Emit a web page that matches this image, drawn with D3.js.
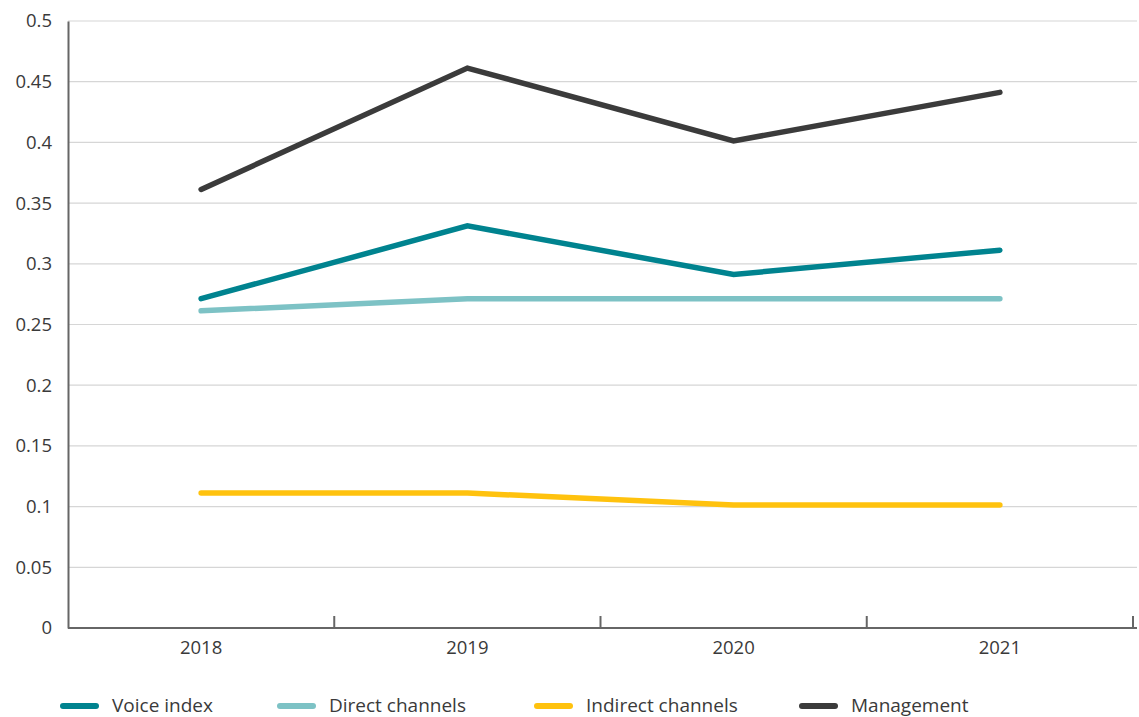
<!DOCTYPE html>
<html><head><meta charset="utf-8">
<script src="https://cdn.jsdelivr.net/npm/d3@7"></script>
<style>
body{margin:0;background:#fff;}
text{font-family:"Open Sans",sans-serif;fill:#3a3a3a;}
</style></head>
<body><svg id="c" width="1139" height="717"></svg>
<script>
const years = ["2018","2019","2020","2021"];
const voiceIndex = [0.27, 0.33, 0.29, 0.31];
const directChannels = [0.26, 0.27, 0.27, 0.27];
const indirectChannels = [0.11, 0.11, 0.10, 0.10];
const management = [0.36, 0.46, 0.40, 0.44];
const yTicks = [0,0.05,0.1,0.15,0.2,0.25,0.3,0.35,0.4,0.45,0.5];
const seriesNames = ["Voice index","Direct channels","Indirect channels","Management"];
const seriesColors = ["#00838f","#7dc2c5","#ffc20e","#3b3b3b"];
const seriesValues = [voiceIndex, directChannels, indirectChannels, management];

const svg = d3.select("#c");
const L = 68, R = 1133, T = 21, B = 628;
const x = d3.scaleBand().domain(years).range([L, R]);
const y = d3.scaleLinear().domain([0, 0.5]).range([B, T]);

// gridlines
svg.append("g").selectAll("line").data(yTicks.filter(d=>d>0)).join("line")
  .attr("x1", L).attr("x2", 1137).attr("y1", d=>y(d)).attr("y2", d=>y(d))
  .attr("stroke", "#d6d6d6").attr("stroke-width", 1.2);

// y axis
const ya = svg.append("g").attr("transform", `translate(${L},0)`)
  .call(d3.axisLeft(y).tickValues(yTicks).tickSize(0).tickPadding(16).tickFormat(d=>String(+d.toFixed(2))));
ya.select(".domain").attr("stroke","#666").attr("stroke-width",2);
ya.selectAll("text").style("font-size","18.5px").attr("fill","#3a3a3a").style("font-family","'Open Sans',sans-serif");

// x axis
const xa = svg.append("g").attr("transform", `translate(0,${B})`)
  .call(d3.axisBottom(x).tickSize(0).tickPadding(13));
xa.select(".domain").remove();
xa.selectAll("text").style("font-size","18.5px").attr("fill","#3a3a3a").style("font-family","'Open Sans',sans-serif");
svg.append("line").attr("x1", L).attr("x2", 1137).attr("y1", B).attr("y2", B)
  .attr("stroke","#666").attr("stroke-width",2);
const bounds = years.map(d=>x(d)).concat([R]).slice(1);
svg.append("g").selectAll("line").data(bounds).join("line")
  .attr("x1", d=>d).attr("x2", d=>d).attr("y1", B).attr("y2", B-12)
  .attr("stroke","#666").attr("stroke-width",2);

// lines
const line = d3.line().x((d,i)=>x(years[i]) + x.bandwidth()/2).y(d=>y(d));
const lines = svg.append("g").attr("transform","translate(0,-1.5)");
seriesValues.forEach((vals, k) => {
  lines.append("path").datum(vals).attr("d", line)
    .attr("fill","none").attr("stroke", seriesColors[k]).attr("stroke-width",5.5)
    .attr("stroke-linecap","round").attr("stroke-linejoin","miter");
});

// legend
const legX = [61, 278, 535, 800];
const lg = svg.append("g");
seriesNames.forEach((n,k)=>{
  lg.append("line").attr("x1", legX[k]+2).attr("x2", legX[k]+35).attr("y1",706).attr("y2",706)
    .attr("stroke", seriesColors[k]).attr("stroke-width",6).attr("stroke-linecap","round");
  lg.append("text").attr("x", legX[k]+51).attr("y", 712).text(n).style("font-size","19px");
});
</script></body></html>
